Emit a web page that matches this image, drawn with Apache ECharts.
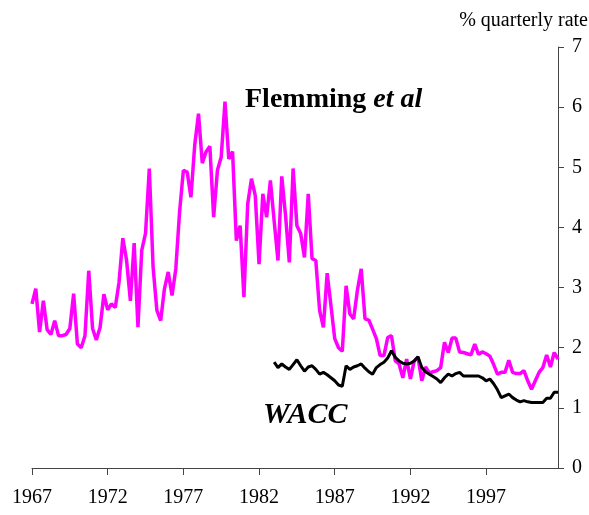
<!DOCTYPE html>
<html>
<head>
<meta charset="utf-8">
<script src="https://cdn.jsdelivr.net/npm/echarts@6/dist/echarts.min.js"></script>
<style>
  html, body { margin: 0; padding: 0; background: #fff; }
  #chart { width: 589px; height: 515px; }
</style>
</head>
<body>
<div id="chart"></div>
<script>
// quarterly data, 1967Q1 .. 2001Q4
var startYear = 1967;
var quarterCount = 140;
var tickYears = ['1967', '1972', '1977', '1982', '1987', '1992', '1997'];

// Flemming et al, % quarterly rate
var flemming = [
  2.73, 2.98, 2.26, 2.78, 2.3, 2.22, 2.45, 2.2, 2.2, 2.22,
  2.32, 2.9, 2.06, 2.0, 2.2, 3.28, 2.32, 2.13, 2.34, 2.89,
  2.63, 2.73, 2.67, 3.09, 3.82, 3.45, 2.78, 3.74, 2.34, 3.62,
  3.9, 4.98, 3.34, 2.62, 2.45, 2.98, 3.26, 2.87, 3.31, 4.26,
  4.95, 4.92, 4.5, 5.37, 5.89, 5.07, 5.26, 5.35, 4.17, 4.95,
  5.17, 6.09, 5.14, 5.26, 3.78, 4.03, 2.84, 4.39, 4.81, 4.53,
  3.39, 4.56, 4.17, 4.78, 4.1, 3.45, 4.85, 4.2, 3.42, 4.98,
  4.03, 3.9, 3.5, 4.56, 3.48, 3.45, 2.62, 2.34, 3.24, 2.7,
  2.15, 2.0, 1.94, 3.03, 2.56, 2.48, 2.96, 3.31, 2.48, 2.46,
  2.31, 2.15, 1.87, 1.87, 2.17, 2.2, 1.78, 1.73, 1.5, 1.81,
  1.48, 1.78, 1.84, 1.45, 1.68, 1.58, 1.6, 1.62, 1.67, 2.09,
  1.92, 2.16, 2.16, 1.93, 1.92, 1.9, 1.88, 2.06, 1.89, 1.93,
  1.9, 1.86, 1.72, 1.56, 1.59, 1.59, 1.79, 1.59, 1.57, 1.57,
  1.62, 1.45, 1.31, 1.45, 1.59, 1.67, 1.88, 1.68, 1.92, 1.81
];

// WACC starts 1983Q1 (quarter index 64)
var waccStart = 64;
var wacc = [
  1.76, 1.67, 1.73, 1.68, 1.64, 1.72, 1.8, 1.7, 1.61, 1.68,
  1.7, 1.64, 1.56, 1.59, 1.55, 1.5, 1.45, 1.38, 1.36, 1.7,
  1.64, 1.68, 1.7, 1.73, 1.66, 1.6, 1.56, 1.67, 1.72, 1.76,
  1.83, 1.95, 1.84, 1.78, 1.74, 1.73, 1.74, 1.78, 1.85, 1.67,
  1.6, 1.56, 1.52, 1.48, 1.42, 1.5, 1.56, 1.53, 1.57, 1.59,
  1.53, 1.53, 1.53, 1.53, 1.53, 1.5, 1.45, 1.48, 1.4, 1.3,
  1.17, 1.2, 1.23, 1.17, 1.13, 1.1, 1.12, 1.1, 1.09, 1.09,
  1.09, 1.09, 1.16, 1.16, 1.26, 1.26
];

var quarters = [];
for (var i = 0; i < quarterCount; i++) {
  quarters.push((startYear + Math.floor(i / 4)) + 'Q' + (i % 4 + 1));
}
var waccSeries = [];
for (var j = 0; j < quarterCount; j++) {
  waccSeries.push(j < waccStart ? null : wacc[j - waccStart]);
}

var serif = '"Liberation Serif", "Times New Roman", serif';
var showTick = function (idx) {
  return idx % 4 === 0 && tickYears.indexOf(quarters[idx].slice(0, 4)) >= 0;
};

var chart = echarts.init(document.getElementById('chart'));
chart.setOption({
  animation: false,
  backgroundColor: '#fff',
  grid: { left: 32, right: 31, top: 47, bottom: 47 },
  xAxis: {
    type: 'category',
    data: quarters,
    boundaryGap: false,
    axisLine: { lineStyle: { color: '#444', width: 1 } },
    axisTick: { interval: showTick, length: 7, lineStyle: { color: '#444' } },
    axisLabel: {
      interval: showTick,
      formatter: function (v) { return v.slice(0, 4); },
      color: '#000',
      fontFamily: serif,
      fontSize: 20,
      margin: 20
    },
    splitLine: { show: false }
  },
  yAxis: {
    type: 'value',
    position: 'right',
    min: 0,
    max: 7,
    interval: 1,
    axisLine: { show: true, lineStyle: { color: '#444', width: 1 } },
    axisTick: { show: true, length: 6, lineStyle: { color: '#444' } },
    axisLabel: { color: '#000', fontFamily: serif, fontSize: 20, margin: 14 },
    splitLine: { show: false }
  },
  series: [
    {
      name: 'Flemming et al',
      type: 'line',
      data: flemming,
      showSymbol: false,
      lineStyle: { color: '#ff00ff', width: 3.5 },
      z: 2
    },
    {
      name: 'WACC',
      type: 'line',
      data: waccSeries,
      showSymbol: false,
      connectNulls: false,
      lineStyle: { color: '#000', width: 3 },
      z: 3
    }
  ],
  graphic: [
    {
      type: 'text',
      right: 1,
      top: 11,
      style: { text: '% quarterly rate', font: '20px ' + serif, fill: '#000' }
    },
    {
      type: 'text',
      left: 245,
      top: 86,
      style: {
        text: '{a|Flemming }{b|et al}',
        rich: {
          a: { font: 'bold 28px ' + serif, fill: '#000' },
          b: { font: 'italic bold 28px ' + serif, fill: '#000' }
        }
      }
    },
    {
      type: 'text',
      left: 263,
      top: 400,
      style: { text: 'WACC', font: 'italic bold 30px ' + serif, fill: '#000' }
    }
  ]
});
</script>
</body>
</html>
